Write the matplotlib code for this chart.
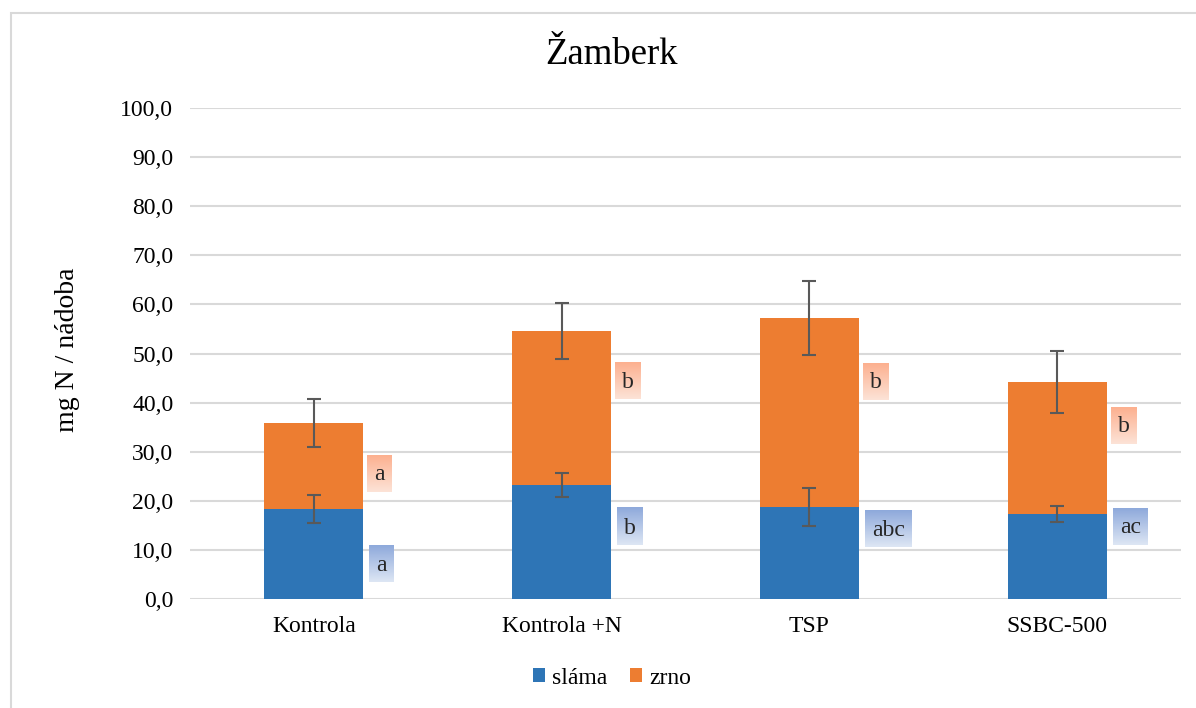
import matplotlib
matplotlib.use("Agg")
import matplotlib.pyplot as plt
import numpy as np
from matplotlib.patches import Rectangle

categories = ["Kontrola", "Kontrola +N", "TSP", "SSBC-500"]
slama = [18.3, 23.2, 18.7, 17.3]
zrno = [17.5, 31.4, 38.5, 26.9]
slama_err = [2.9, 2.4, 3.9, 1.6]
zrno_err = [4.9, 5.7, 7.6, 6.3]
slama_letters = ["a", "b", "abc", "ac"]
zrno_letters = ["a", "b", "b", "b"]
slama_letter_y = [7.2, 14.7, 14.3, 14.8]
zrno_letter_y = [25.6, 44.4, 44.3, 35.4]
yticks = np.arange(0, 101, 10)

plt.rcParams['font.family'] = ['Liberation Serif', 'DejaVu Serif']

W, H = 1196, 708
fig = plt.figure(figsize=(W / 100, H / 100), dpi=100)
fig.patch.set_facecolor("white")
# outer chart border (top and left visible)
fig.add_artist(Rectangle((11 / W, -0.1), 1.2, (H - 13) / H + 0.1, transform=fig.transFigure,
                         fill=False, edgecolor="#D9D9D9", linewidth=1.5))

ax = fig.add_axes([190 / W, (H - 599) / H, (1181 - 190) / W, (599 - 108) / H])
x = np.arange(len(categories))
bw = 0.4
c_s, c_z = "#2E75B6", "#ED7D31"
totals = [s + z for s, z in zip(slama, zrno)]
ax.bar(x, slama, bw, color=c_s, label="sláma", zorder=2)
ax.bar(x, zrno, bw, bottom=slama, color=c_z, label="zrno", zorder=2)
ax.errorbar(x, slama, yerr=slama_err, fmt="none", ecolor="#595959", elinewidth=1.5,
            capsize=4.8, capthick=1.5, zorder=3)
ax.errorbar(x, totals, yerr=zrno_err, fmt="none", ecolor="#595959", elinewidth=1.5,
            capsize=4.8, capthick=1.5, zorder=3)

ax.set_xlim(-0.5, len(categories) - 0.5)
ax.set_ylim(0, 100)
ax.set_yticks(yticks)
ax.set_yticklabels([f"{v:.1f}".replace(".", ",") for v in yticks], fontsize=17)
ax.set_xticks(x)
ax.set_xticklabels(categories, fontsize=17)
ax.tick_params(length=0, pad=12)
ax.tick_params(axis="x", pad=12)
ax.grid(axis="y", color="#D9D9D9", linewidth=1.5, zorder=0)
ax.set_axisbelow(True)
for sp in ax.spines.values():
    sp.set_visible(False)

fig.text(67 / W, 1 - 350 / H, "mg N / nádoba", rotation=90, ha="center", va="center",
         fontsize=20)
fig.text(611 / W, 1 - 55 / H, "Žamberk", ha="center", va="center", fontsize=26.5)

leg = fig.legend(*ax.get_legend_handles_labels(), loc="center",
                 bbox_to_anchor=(612 / W, 1 - 678 / H), ncol=2, frameon=False,
                 fontsize=17, handlelength=0.5, handleheight=0.5, handletextpad=0.3,
                 columnspacing=1.0, borderaxespad=0, borderpad=0)

# letter labels with gradient boxes
fig.canvas.draw()
renderer = fig.canvas.get_renderer()
inv = ax.transData.inverted()

def grad(top, bottom):
    t = np.linspace(0, 1, 64)[:, None]
    top = np.array(matplotlib.colors.to_rgb(top))
    bottom = np.array(matplotlib.colors.to_rgb(bottom))
    img = top[None, None, :] * (1 - t[:, :, None]) + bottom[None, None, :] * t[:, :, None]
    return np.repeat(img, 4, axis=1)

def label(xi, y, s, off_px, top, bottom):
    xr_px = ax.transData.transform((xi + bw / 2, 0))[0]
    yc_px = ax.transData.transform((0, y))[1]
    t = ax.text(0, 0, s, fontsize=17, ha="center", va="center", color="#262626", zorder=6)
    bb = t.get_window_extent(renderer)
    w = bb.width + 14
    h = 37
    x0 = xr_px + off_px
    (dx0, dy0) = inv.transform((x0, yc_px - h / 2))
    (dx1, dy1) = inv.transform((x0 + w, yc_px + h / 2))
    ax.imshow(grad(top, bottom), extent=(dx0, dx1, dy0, dy1), aspect="auto",
              zorder=5, interpolation="bilinear")
    xc, yc = inv.transform((x0 + w / 2, yc_px))
    t.set_position((xc, yc - 0.3))

for i in range(len(categories)):
    label(x[i], zrno_letter_y[i], zrno_letters[i], 4, "#FCB08F", "#FDE3D7")
    label(x[i], slama_letter_y[i], slama_letters[i], 6, "#8EA9DB", "#DDE6F4")

ax.set_xlim(-0.5, len(categories) - 0.5)
ax.set_ylim(0, 100)

fig.savefig("out.png", dpi=100, facecolor="white")
